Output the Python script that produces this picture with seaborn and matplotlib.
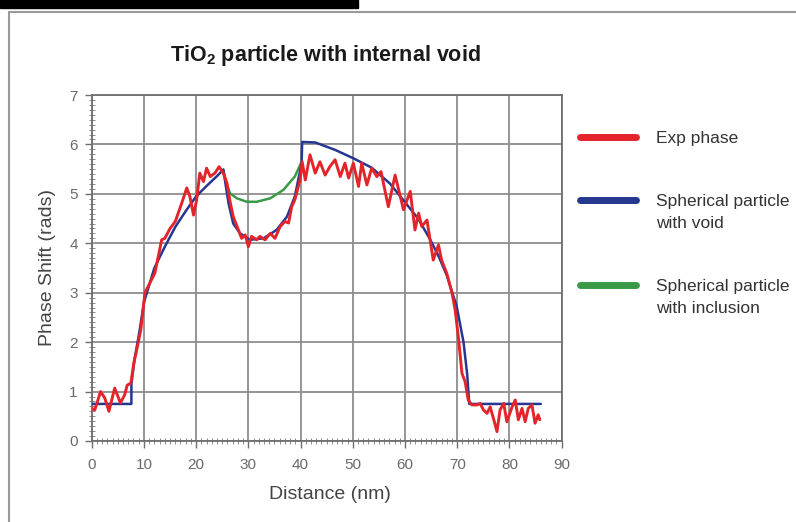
import matplotlib
matplotlib.use("Agg")
import numpy as np
import pandas as pd
import matplotlib.pyplot as plt
import seaborn as sns
from matplotlib.lines import Line2D
from matplotlib.patches import Rectangle
from matplotlib.ticker import MultipleLocator
from matplotlib import font_manager

exp_x = [0, 0.6, 1.7, 2.5, 3.3, 4.4, 5.5, 6.3, 6.8, 7.5, 8.1, 8.5, 9.4, 10.2, 12.1,
         13.4, 14.0, 15.0, 16.0, 17.2, 18.2, 18.8, 19.5, 20.1, 20.7, 21.4, 22.0, 22.7,
         23.6, 24.4, 25.2, 25.9, 26.5, 27.1, 28.1, 28.7, 29.4, 30.0, 30.6, 31.6, 32.2,
         33.2, 34.2, 35.1, 36.1, 37.0, 37.7, 38.3, 38.9, 39.9, 40.3, 40.9, 41.8, 42.8,
         43.7, 44.7, 45.6, 46.6, 47.6, 48.5, 49.2, 50.1, 51.1, 51.7, 52.7, 53.6, 54.6,
         55.4, 56.8, 58.1, 59.7, 61.0, 61.9, 62.6, 63.2, 64.2, 65.4, 66.4, 67.0, 68.0,
         69.0, 69.6, 70.2, 70.9, 71.5, 72.1, 72.8, 73.8, 74.4, 75.0, 75.7, 76.3, 77.0,
         77.6, 78.2, 78.9, 79.5, 80.5, 81.1, 81.7, 82.4, 83.0, 83.6, 84.3, 84.9, 85.5,
         85.8]
exp_y = [0.66, 0.63, 1.0, 0.87, 0.6, 1.07, 0.77, 0.93, 1.13, 1.17, 1.6, 1.78, 2.25, 3.0, 3.4,
         4.07, 4.1, 4.3, 4.44, 4.8, 5.12, 4.95, 4.57, 4.88, 5.42, 5.25, 5.52, 5.35,
         5.42, 5.55, 5.42, 5.22, 4.84, 4.54, 4.27, 4.1, 4.17, 3.93, 4.14, 4.07, 4.14,
         4.07, 4.2, 4.1, 4.34, 4.44, 4.41, 4.74, 4.88, 5.28, 5.65, 5.28, 5.79, 5.42,
         5.65, 5.38, 5.55, 5.69, 5.35, 5.62, 5.32, 5.62, 5.15, 5.62, 5.18, 5.52, 5.35,
         5.45, 4.74, 5.38, 4.68, 5.05, 4.27, 4.61, 4.34, 4.47, 3.66, 3.97, 3.66, 3.39,
         2.99, 2.65, 2.11, 1.37, 1.2, 0.83, 0.73, 0.73, 0.76, 0.63, 0.56, 0.69, 0.43,
         0.19, 0.63, 0.76, 0.39, 0.69, 0.83, 0.43, 0.66, 0.39, 0.66, 0.73, 0.36, 0.53,
         0.43]

# 含空洞球形颗粒模型
void_x = [0, 7.6, 7.6, 8.2, 9.2, 10, 12, 14, 16, 18, 20, 22, 24, 25.2, 26.2, 27.1,
          28.4, 30.3, 32.9, 35.4, 37.4, 38.9, 40.2, 40.3, 42.8, 46.6, 50.1, 53.6,
          57.1, 60.0, 62.5, 64.8, 66.5, 68.0, 69.9, 71.2, 71.9, 72.3, 86.0]
void_y = [0.75, 0.75, 1.15, 1.65, 2.25, 2.8, 3.5, 3.93, 4.33, 4.65, 4.95, 5.16, 5.36,
          5.49, 4.81, 4.4, 4.2, 4.07, 4.1, 4.27, 4.54, 4.95, 5.62, 6.05, 6.04, 5.89,
          5.72, 5.53, 5.21, 4.83, 4.5, 4.08, 3.72, 3.35, 2.72, 2.0, 1.35, 0.75, 0.75]

# 含夹杂物球形颗粒模型
incl_x = [25.2, 25.8, 26.5, 27.8, 29.7, 31.6, 34.2, 36.7, 38.9, 40.2]
incl_y = [5.49, 5.2, 5.01, 4.91, 4.84, 4.84, 4.91, 5.08, 5.35, 5.65]

labels = ["Exp phase", "Spherical particle\nwith void", "Spherical particle\nwith inclusion"]
colors = ["#e3242b", "#25378f", "#3a9a48"]

sns.set_style("white")
names = {f.name for f in font_manager.fontManager.ttflist}
narrow = "Liberation Sans Narrow" if "Liberation Sans Narrow" in names else "Liberation Sans"
plt.rcParams["font.family"] = [narrow, "DejaVu Sans"]
plt.rcParams["mathtext.fontset"] = "custom"
plt.rcParams["mathtext.rm"] = narrow + ":bold"
plt.rcParams["mathtext.default"] = "rm"

W, H = 796, 522
fig = plt.figure(figsize=(W / 100, H / 100), dpi=100)
ax = fig.add_axes([91.7 / W, 1 - 441 / H, 470 / W, 346 / H])

df_inc = pd.DataFrame({"x": incl_x, "y": incl_y})
df_void = pd.DataFrame({"x": void_x, "y": void_y})
df_exp = pd.DataFrame({"x": exp_x, "y": exp_y})

sns.lineplot(data=df_inc, x="x", y="y", ax=ax, color=colors[2], lw=1.8,
             sort=False, estimator=None, zorder=3)
sns.lineplot(data=df_void, x="x", y="y", ax=ax, color=colors[1], lw=1.8,
             sort=False, estimator=None, zorder=4)
sns.lineplot(data=df_exp, x="x", y="y", ax=ax, color=colors[0], lw=2.1,
             sort=False, estimator=None, zorder=5)

ax.set_xlim(0, 90)
ax.set_ylim(0, 7)
ax.xaxis.set_major_locator(MultipleLocator(10))
ax.xaxis.set_minor_locator(MultipleLocator(1))
ax.yaxis.set_major_locator(MultipleLocator(1))
ax.yaxis.set_minor_locator(MultipleLocator(0.1))
ax.grid(True, which="major", color="#8e8e8e", lw=1.3)
for s in ax.spines.values():
    s.set_color("#6e6e6e")
    s.set_linewidth(1.3)
ax.tick_params(which="major", direction="out", length=5, width=1, color="#6e6e6e",
               labelsize=11, labelcolor="#6a6a6a")
ax.tick_params(axis="x", which="major", pad=7)
ax.tick_params(axis="y", which="major", pad=5)
ax.tick_params(which="minor", direction="inout", length=4, width=0.7, color="#8a8a8a")
ax.tick_params(which="both", bottom=True, left=True, top=False, right=False)

ax.set_xlabel("Distance (nm)", fontsize=14, color="#444444")
ax.set_ylabel("Phase Shift (rads)", fontsize=14, color="#444444")
ax.xaxis.set_label_coords((330 - 91.7) / 470, (441 - 486) / 346)
ax.yaxis.set_label_coords((56 - 91.7) / 470, 0.5)

fig.text(325 / W, 1 - 55 / H, r"TiO$_2$ particle with internal void",
         ha="center", va="center", fontsize=15.5, fontweight="bold", color="#1a1a1a")

handles = [Line2D([], [], color=c, lw=5) for c in colors]
leg = ax.legend(handles, labels, loc="upper left", bbox_to_anchor=(580 / W, 1 - 131 / H),
                bbox_transform=fig.transFigure, frameon=False, fontsize=12.5,
                handlelength=3.2, handletextpad=1.2, labelspacing=2.75,
                borderpad=0, borderaxespad=0)
for t in leg.get_texts():
    t.set_color("#333333")
    t.set_linespacing(1.6)
# 图例线条对齐到第一行文字
for col in leg._legend_handle_box.get_children():
    for row in col.get_children():
        row.align = "top"

# 外框和顶部黑条
fig.add_artist(Rectangle((0, 1 - 8 / H), 358 / W, 8 / H, transform=fig.transFigure,
                         color="black", zorder=10))
fig.add_artist(Line2D([9 / W, 9 / W], [0, 1 - 12 / H], transform=fig.transFigure,
                      color="#9a9a9a", lw=1.5))
fig.add_artist(Line2D([9 / W, 1], [1 - 12 / H, 1 - 12 / H], transform=fig.transFigure,
                      color="#9a9a9a", lw=1.5))

fig.savefig("out.png", dpi=100)
